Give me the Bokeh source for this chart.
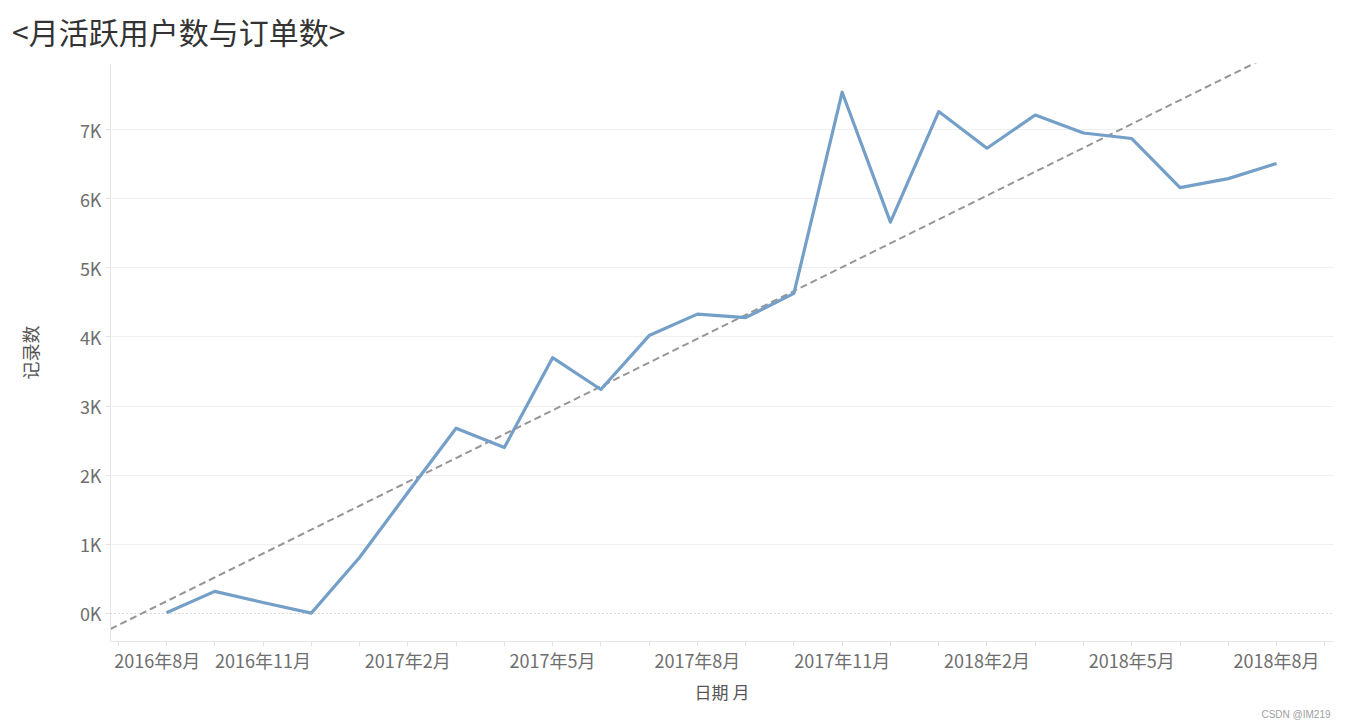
import numpy as np
from bokeh.plotting import figure
from bokeh.layouts import column
from bokeh.models import Range1d, FixedTicker, Span, Title, Div, ColumnDataSource
from bokeh.embed import file_html
from bokeh.resources import INLINE

# ---- data ----
month_labels = ["2016年9月", "2016年10月", "2016年11月", "2016年12月",
                "2017年1月", "2017年2月", "2017年3月", "2017年4月",
                "2017年5月", "2017年6月", "2017年7月", "2017年8月",
                "2017年9月", "2017年10月", "2017年11月", "2017年12月",
                "2018年1月", "2018年2月", "2018年3月", "2018年4月",
                "2018年5月", "2018年6月", "2018年7月", "2018年8月"]
record_counts = [10, 320, 160, 5, 810, 1750, 2680, 2400, 3700, 3240, 4020, 4330,
                 4280, 4630, 7540, 5660, 7260, 6730, 7210, 6950, 6870, 6160, 6290, 6510]
tick_months = [-1, 2, 5, 8, 11, 14, 17, 20, 23]
tick_labels = ["2016年8月", "2016年11月", "2017年2月", "2017年5月", "2017年8月",
               "2017年11月", "2018年2月", "2018年5月", "2018年8月"]
y_ticks = [0, 1000, 2000, 3000, 4000, 5000, 6000, 7000]
title_text = "&lt;月活跃用户数与订单数&gt;"

x = list(range(len(record_counts)))
src = ColumnDataSource(dict(x=x, y=record_counts, month=month_labels))

FONT = "Noto Sans CJK SC"
GRID = "#efefef"
TICKTXT = "#6e6e6e"

title_div = Div(text=title_text, width=1340, height=50, margin=(0, 0, 0, 0),
                styles={"font-family": FONT, "font-size": "30px", "color": "#333333",
                        "line-height": "30px", "padding-top": "16px",
                        "padding-left": "12px", "white-space": "nowrap"})

p = figure(width=1340, height=670, output_backend="svg", toolbar_location=None,
           x_range=Range1d(-1.16, 24.18), y_range=Range1d(-405, 7955),
           min_border_left=110, min_border_right=7, min_border_top=13,
           min_border_bottom=79, outline_line_color=None, margin=(0, 0, 0, 0))

# trend line (least squares)
slope, intercept = np.polyfit(x, record_counts, 1)
tx = np.array([-3.0, 27.0])
p.line(tx, slope * tx + intercept, line_color="#969696", line_width=2, line_dash="7 4")

# zero line
p.add_layout(Span(location=0, dimension="width", line_color="#b5b5b5",
                  line_dash="1 3", line_width=1))

p.line("x", "y", source=src, line_color="#749fc8", line_width=3.2, line_join="round")

# x axis
label_pos = [float(t) for t in tick_months]
label_pos[0] += 0.81  # first label nudged inside the pane as in the original
xa = p.xaxis[0]
xa.ticker = FixedTicker(ticks=label_pos, minor_ticks=list(range(-1, 25)))
xa.major_label_overrides = {lp: lab for lp, lab in zip(label_pos, tick_labels)}
xa.major_tick_line_color = None
xa.major_tick_in = 0
xa.major_tick_out = 5
xa.minor_tick_line_color = "#e3e3e3"
xa.minor_tick_in = 0
xa.minor_tick_out = 5
xa.axis_line_color = "#e6e6e6"
xa.major_label_text_font = FONT
xa.major_label_text_font_size = "18px"
xa.major_label_text_color = TICKTXT
xa.major_label_standoff = 0
xa.axis_label = "日期 月"
xa.axis_label_text_font = FONT
xa.axis_label_text_font_size = "17px"
xa.axis_label_text_font_style = "normal"
xa.axis_label_text_color = "#555555"
xa.axis_label_standoff = 3

# y axis
ya = p.yaxis[0]
ya.ticker = FixedTicker(ticks=y_ticks, minor_ticks=[])
ya.major_label_overrides = {t: f"{t // 1000}K" for t in y_ticks}
ya.major_tick_line_color = "#e3e3e3"
ya.major_tick_in = 0
ya.major_tick_out = 5
ya.axis_line_color = "#e6e6e6"
ya.major_label_text_font = FONT
ya.major_label_text_font_size = "18px"
ya.major_label_text_color = TICKTXT
ya.major_label_standoff = 4
ya.axis_label = "记录数"
ya.axis_label_text_font = FONT
ya.axis_label_text_font_size = "18px"
ya.axis_label_text_font_style = "normal"
ya.axis_label_text_color = "#555555"
ya.axis_label_standoff = 34

p.xgrid.grid_line_color = None
p.ygrid.grid_line_color = GRID
p.ygrid.ticker = FixedTicker(ticks=y_ticks[1:])

p.add_layout(Title(text="CSDN @IM219", align="right", text_font="Liberation Sans",
                   text_font_size="10px", text_font_style="normal",
                   text_color="#a0a0a0", standoff=0, offset=3), "below")

layout = column(title_div, p, spacing=0)
open("out.html", "w").write(file_html(layout, INLINE))
